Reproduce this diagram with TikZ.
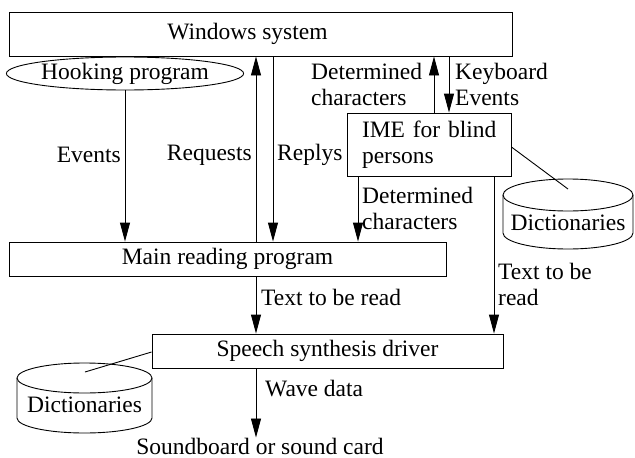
\documentclass[tikz,border=0pt]{standalone}
\usepackage{fontspec}
\setmainfont{Liberation Serif}
\usetikzlibrary{arrows.meta,shapes.geometric}
\begin{document}
\begin{tikzpicture}[x=1pt,y=-1pt,
  font=\fontsize{23.5}{26}\selectfont,
  box/.style={draw,line width=0.9pt,rectangle,inner sep=0pt},
  arr/.style={line width=0.9pt,-{Triangle[length=19pt,width=10pt]}},
  lbl/.style={inner sep=0pt,align=left},
  ln/.style={line width=0.9pt}]
\useasboundingbox (0,0) rectangle (635,458);
% boxes
\node[box,minimum width=503pt,minimum height=44pt] (win) at (260.5,34) {Windows system\hspace*{26pt}};
\node[draw,line width=0.9pt,ellipse,minimum width=230pt,minimum height=33pt,inner sep=0pt] (hook) at (125,73.5) {Hooking program};
\node[box,minimum width=437pt,minimum height=34pt] (main) at (227.5,259) {Main reading program};
\node[box,minimum width=164pt,minimum height=63pt,text width=146pt,align=left] (ime) at (429,144.5) {\hspace*{6pt}IME for blind\\\hspace*{6pt}persons};
\node[box,minimum width=351pt,minimum height=34pt] (speech) at (327.5,351) {Speech synthesis driver};
\node[inner sep=0pt] (snd) at (260,446) {Soundboard or sound card};
% x positions
\coordinate (xreq) at (256,0);
\coordinate (xrep) at (273,0);
\coordinate (xdu) at (434,0);
\coordinate (xkb) at (449,0);
\coordinate (xdd) at (358,0);
\coordinate (xtr) at (494,0);
% arrows
\draw[arr] (hook.south) -- (main.north -| hook.south);
\draw[arr] (main.north -| xreq) -- (win.south -| xreq);
\draw[arr] (win.south -| xrep) -- (main.north -| xrep);
\draw[arr] (ime.north -| xdu) -- (win.south -| xdu);
\draw[arr] (win.south -| xkb) -- (ime.north -| xkb);
\draw[arr] (ime.south -| xdd) -- (main.north -| xdd);
\draw[arr] (ime.south -| xtr) -- (speech.north -| xtr);
\draw[arr] (main.south -| xreq) -- (speech.north -| xreq);
\draw[arr] (speech.south -| xreq) -- (snd.north -| xreq);
% labels
\node[lbl,anchor=east] (lev) at (121,155) {Events};
\node[lbl,anchor=east] (lreq) at (252,155) {Requests};
\node[lbl,anchor=west] (lrep) at (277,155) {Replys};
\node[lbl,anchor=west] (ldu) at (311,84.5) {Determined\\characters};
\node[lbl,anchor=west] (lkb) at (455,84.5) {Keyboard\\Events};
\node[lbl,anchor=west] (ldd) at (362,208) {Determined\\characters};
\node[lbl,anchor=west] (ltr) at (498,284.5) {Text to be\\read};
\node[lbl,anchor=west] (ltm) at (261,297.5) {Text to be read};
\node[lbl,anchor=west] (lwv) at (265,389) {Wave data};
% right dictionaries
\node[inner sep=0pt] (dictR) at (568,223) {Dictionaries};
\draw[ln] (568,195) ellipse [x radius=65pt,y radius=16pt];
\draw[ln] (503,195) -- (503,233) arc[start angle=180,end angle=360,x radius=65pt,y radius=16pt] -- (633,195);
\coordinate (dR) at (568,189);
\draw[ln] (ime.east |- 0,147) -- (dR);
% left dictionaries
\node[inner sep=0pt] (dictL) at (84.5,405) {Dictionaries};
\draw[ln] (84.5,378) ellipse [x radius=67.5pt,y radius=15pt];
\draw[ln] (17,378) -- (17,418) arc[start angle=180,end angle=360,x radius=67.5pt,y radius=15pt] -- (152,378);
\coordinate (dL) at (85,372);
\draw[ln] (speech.west |- 0,352) -- (dL);
\end{tikzpicture}
\end{document}
